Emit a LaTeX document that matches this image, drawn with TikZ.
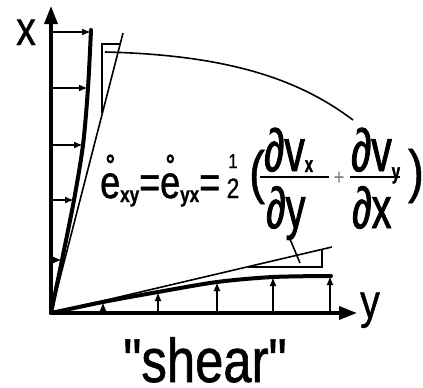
\documentclass[tikz,border=0pt]{standalone}
\usepackage{fontspec}
\setmainfont{Liberation Sans}[FakeStretch=0.82, FakeBold=0.8]
\newfontfamily\capfont{Liberation Sans}[FakeStretch=0.82, FakeBold=1]
\newfontfamily\eqfont{Liberation Sans}[FakeStretch=0.78, FakeBold=1]
\newfontfamily\fracfont{Liberation Sans}[FakeStretch=0.68, FakeBold=1.5]
\usetikzlibrary{arrows.meta, positioning}
\tikzset{
  axisA/.style={-{Triangle[length=18pt,width=13pt]}, line width=3.4pt},
  profA/.style={-{Latex[length=9pt,width=7pt]}, line width=2.2pt},
  profC/.style={line width=4pt, line cap=round, line join=round},
  thinL/.style={line width=1.6pt},
  barL/.style={line width=2.4pt},
  lbl/.style={inner sep=0pt, font=\fontsize{48}{48}\selectfont},
  eqM/.style={inner sep=0pt, font=\eqfont\fontsize{46}{46}\selectfont},
  eqN/.style={inner sep=0pt, font=\fracfont\fontsize{60}{60}\selectfont},
  eqD/.style={inner sep=0pt, font=\fracfont\fontsize{58}{58}\selectfont},
  parA/.style={inner sep=0pt, font=\fontsize{58}{58}\selectfont},
}
\newcommand{\sub}[2][4pt]{\raisebox{-#1}{\fontsize{22}{22}\selectfont\bfseries #2}}

\begin{document}
\begin{tikzpicture}[x=1pt, y=-1pt]
  \useasboundingbox (0,0) rectangle (423,388);
  \coordinate (O) at (51,313);
  \coordinate (xend) at (51,6);
  \coordinate (yend) at (357,313);
  % axes
  \draw[axisA] (O) -- (xend);
  \draw[axisA] (O) -- (yend);
  \node[lbl, anchor=base] (xl) at (26,45) {x};
  \node[lbl, anchor=base] (yl) at (370,318) {y};
  % velocity profiles
  \foreach \yy/\xx in {32/91, 88/88, 145/83, 200/74, 260/62}
    \draw[profA] (51,\yy) -- (\xx,\yy);
  \draw[profC] plot[smooth] coordinates {(51,313) (62,260) (74,200) (83,145) (88,88) (91,30)};
  \foreach \xx/\yy in {103/302, 158/292, 217/282, 273/277, 330/276}
    \draw[profA] (\xx,313) -- (\xx,\yy);
  \draw[profC] plot[smooth] coordinates {(51,313) (103,302) (158,292) (217,282) (273,277) (331,276)};
  % tangents and slope triangles
  \coordinate (T1) at (123,33);
  \coordinate (T2) at (332,247);
  \draw[thinL] (O) -- (T1);
  \draw[thinL] (O) -- (T2);
  \draw[thinL] (120.3,44) -- (102,44) -- (102,113);
  \draw[thinL] (248,267) -- (322,267) -- (322,249);
  \coordinate (tk1) at (290,239);
  \coordinate (tk2) at (300,263);
  \draw[thinL] (tk1) -- (tk2);
  \coordinate (lead1) at (105,52);
  \coordinate (lead2) at (353,120);
  \draw[thinL] (lead1) .. controls (230,55) and (300,80) .. (lead2);
  % formula
  \node[eqM, anchor=base west] (lhs) at (100,198) {\r{e}\sub{xy}=\r{e}\sub{yx}=};
  \node[inner sep=0pt, font=\fontsize{20}{20}\selectfont, anchor=base] (one) at (233,168) {1};
  \node[inner sep=0pt, font=\fontsize{28}{28}\selectfont, anchor=base] (two) at (233,198) {2};
  \node[parA, anchor=base] (lp) at (257,192) {(};
  \node[eqN, anchor=base west] (n1) at (264,171) {∂v\sub[1pt]{x}};
  \draw[barL] (260,177) -- (329,177);
  \node[eqD, anchor=base west] (d1) at (266,228) {∂y};
  \node[inner sep=0pt, font=\fontsize{22}{22}\selectfont, text=black!50] (plus) at (339,178) {+};
  \node[eqN, anchor=base west] (n2) at (351,171) {∂v\sub[8pt]{y}};
  \draw[barL] (350,177) -- (400,177);
  \node[eqD, anchor=base west] (d2) at (352,228) {∂x};
  \node[parA, anchor=base] (rp) at (416,191) {)};
  % caption
  \node[inner sep=0pt, font=\capfont\fontsize{62}{62}\selectfont, anchor=base] (cap) at (205,382) {"shear"};
\end{tikzpicture}
\end{document}
